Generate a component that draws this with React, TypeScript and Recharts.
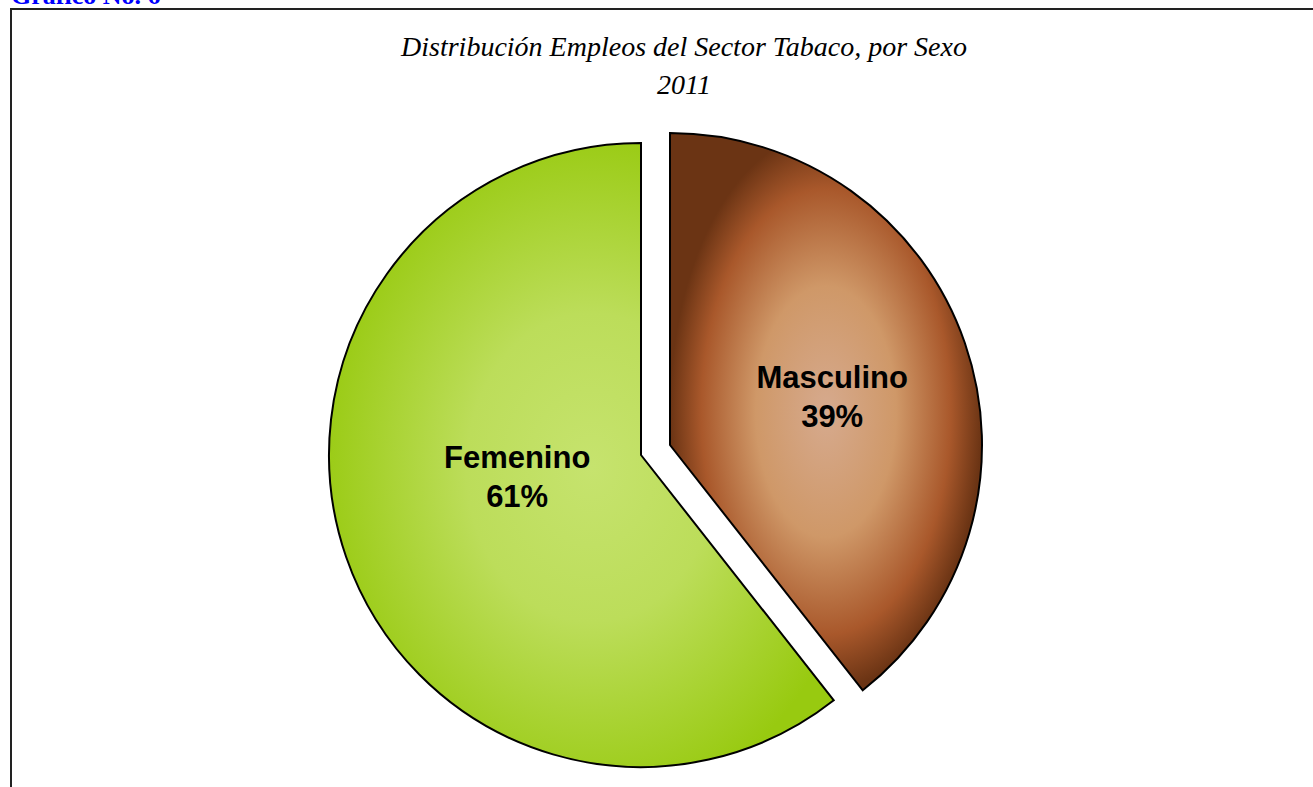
import React from "react";
import { PieChart, Pie, Cell } from "recharts";

const categories = ["Masculino", "Femenino"];
const values = [39.4, 60.6];
const titleLines = ["Distribución Empleos del Sector Tabaco, por Sexo", "2011"];
const caption = "Gráfico No. 6";

const data = categories.map((name, i) => ({ name, value: values[i] }));

const W = 1313;
const H = 787;
const RADIAN = Math.PI / 180;

const makeLabel = (showIndex: number, rFrac: number, dy: number) => (props: any) => {
  const { cx, cy, midAngle, outerRadius, index, name, percent } = props;
  if (index !== showIndex) return null;
  const r = outerRadius * rFrac;
  const x = cx + r * Math.cos(-midAngle * RADIAN);
  const y = cy + r * Math.sin(-midAngle * RADIAN) + dy;
  return (
    <text
      x={x}
      y={y}
      textAnchor="middle"
      fontFamily="'Liberation Sans', Arial, sans-serif"
      fontWeight="bold"
      fontSize={31}
      fill="#000"
    >
      <tspan x={x} dy={-8}>{name}</tspan>
      <tspan x={x} dy={39}>{`${Math.round(percent * 100)}%`}</tspan>
    </text>
  );
};

export default function App() {
  return (
    <div style={{ position: "absolute", left: 0, top: 0, width: W, height: H, background: "#fff" }}>
      <PieChart width={W} height={H} margin={{ top: 0, right: 0, bottom: 0, left: 0 }}>
        <defs>
          <radialGradient id="gradGreen" cx="0.52" cy="0.52" r="0.55">
            <stop offset="0" stopColor="#c6e36e" />
            <stop offset="0.45" stopColor="#bcdd5a" />
            <stop offset="1" stopColor="#98ca10" />
          </radialGradient>
          <radialGradient id="gradBrown" cx="0.5" cy="0.5" r="0.5">
            <stop offset="0" stopColor="#d6aa8e" />
            <stop offset="0.45" stopColor="#cf9868" />
            <stop offset="0.8" stopColor="#a9582b" />
            <stop offset="1" stopColor="#6b3414" />
          </radialGradient>
        </defs>
        <Pie
          data={data}
          dataKey="value"
          nameKey="name"
          cx={641}
          cy={455}
          outerRadius={312}
          startAngle={90}
          endAngle={-270}
          isAnimationActive={false}
          labelLine={false}
          label={makeLabel(1, 0.42, -22)}
        >
          <Cell fill="none" stroke="none" />
          <Cell fill="url(#gradGreen)" stroke="#000" strokeWidth={2} />
        </Pie>
        <Pie
          data={data}
          dataKey="value"
          nameKey="name"
          cx={670}
          cy={445}
          outerRadius={312}
          startAngle={90}
          endAngle={-270}
          isAnimationActive={false}
          labelLine={false}
          label={makeLabel(0, 0.55, 7)}
        >
          <Cell fill="url(#gradBrown)" stroke="#000" strokeWidth={2} />
          <Cell fill="none" stroke="none" />
        </Pie>
      </PieChart>
      <svg
        width={W}
        height={H}
        style={{ position: "absolute", left: 0, top: 0, pointerEvents: "none" }}
      >
        <rect x={11} y={9} width={1400} height={900} fill="none" stroke="#222" strokeWidth={2} />
        <text
          x={11}
          y={4}
          fontFamily="'Liberation Serif', 'Times New Roman', serif"
          fontWeight="bold"
          fontSize={26}
          fill="#0000ff"
        >
          {caption}
        </text>
        <text
          x={684}
          y={56}
          textAnchor="middle"
          fontFamily="'Liberation Serif', 'Times New Roman', serif"
          fontStyle="italic"
          fontSize={28}
          fill="#000"
        >
          {titleLines[0]}
        </text>
        <text
          x={684}
          y={94}
          textAnchor="middle"
          fontFamily="'Liberation Serif', 'Times New Roman', serif"
          fontStyle="italic"
          fontSize={28}
          fill="#000"
        >
          {titleLines[1]}
        </text>
      </svg>
    </div>
  );
}
